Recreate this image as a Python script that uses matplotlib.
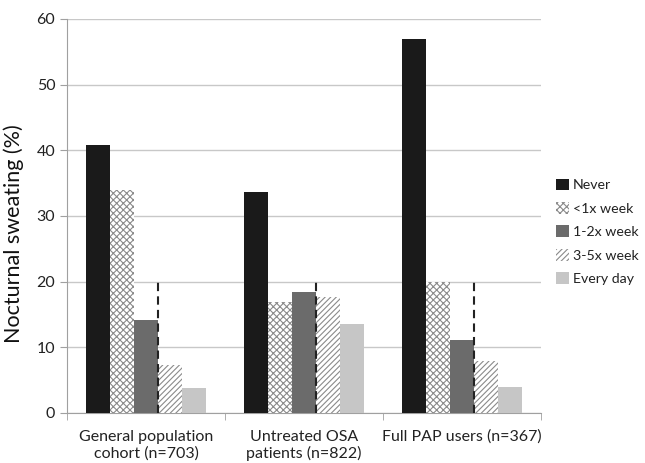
import numpy as np
import matplotlib
matplotlib.use("Agg")
import matplotlib.pyplot as plt

# data
groups = ["General population\ncohort (n=703)", "Untreated OSA\npatients (n=822)", "Full PAP users (n=367)"]
series = ["Never", "<1x week", "1-2x week", "3-5x week", "Every day"]
never = [40.8, 33.6, 57.0]
lt1 = [33.9, 16.9, 20.0]
one2 = [14.1, 18.4, 11.1]
three5 = [7.3, 17.7, 7.9]
everyday = [3.8, 13.5, 4.0]
cutoff = 20

plt.rcParams['font.family'] = ['Lato', 'DejaVu Sans']
plt.rcParams['hatch.color'] = '#8a8a8a'
plt.rcParams['hatch.linewidth'] = 0.8

fig = plt.figure(figsize=(6.45, 4.63), dpi=100)
ax = fig.add_axes([0.104, 0.108, 0.735, 0.851])

vals = [never, lt1, one2, three5, everyday]
faces = ['#1a1a1a', 'white', '#6b6b6b', 'white', '#c6c6c6']
hatches = [None, 'xxxxx', None, '//////', None]
x = np.arange(len(groups))
w = 0.152
for i in range(5):
    ax.bar(x + (i - 2) * w, vals[i], w, color=faces[i], hatch=hatches[i],
           edgecolor='#8a8a8a' if hatches[i] else faces[i], linewidth=0,
           label=series[i], zorder=3)

# dashed divider between 1-2x and 3-5x bars
ax.vlines(x + w / 2, 0, cutoff, colors='#222222', linestyles=(0, (4, 2.5)), linewidth=1.5, zorder=4)

ax.set_xlim(-0.5, 2.5)
ax.set_ylim(0, 60)
ax.set_yticks(np.arange(0, 61, 10))
ax.yaxis.grid(True, color='#c8c8c8', linewidth=1, zorder=0)
ax.set_xticks(x)
ax.set_xticklabels(groups, fontsize=11.5, color='#222222')
ax.tick_params(axis='x', length=0, pad=12)
ax.set_xticks([-0.5, 0.5, 1.5, 2.5], minor=True)
ax.tick_params(axis='x', which='minor', length=5, color='#a0a0a0')
ax.tick_params(axis='y', length=5, color='#a0a0a0', labelsize=11.5, labelcolor='#222222')
for s in ['top', 'right']:
    ax.spines[s].set_visible(False)
for s in ['left', 'bottom']:
    ax.spines[s].set_color('#a0a0a0')
ax.set_ylabel('Nocturnal sweating (%)', fontsize=15.5, color='#111111')
ax.yaxis.set_label_coords(-0.09, 0.455)

leg = ax.legend(loc='center left', bbox_to_anchor=(1.005, 0.46), frameon=False, fontsize=10.2,
                handlelength=0.9, handleheight=0.9, handletextpad=0.25, labelspacing=0.75)
for t in leg.get_texts():
    t.set_color('#222222')

plt.savefig('out.png', dpi=100)
